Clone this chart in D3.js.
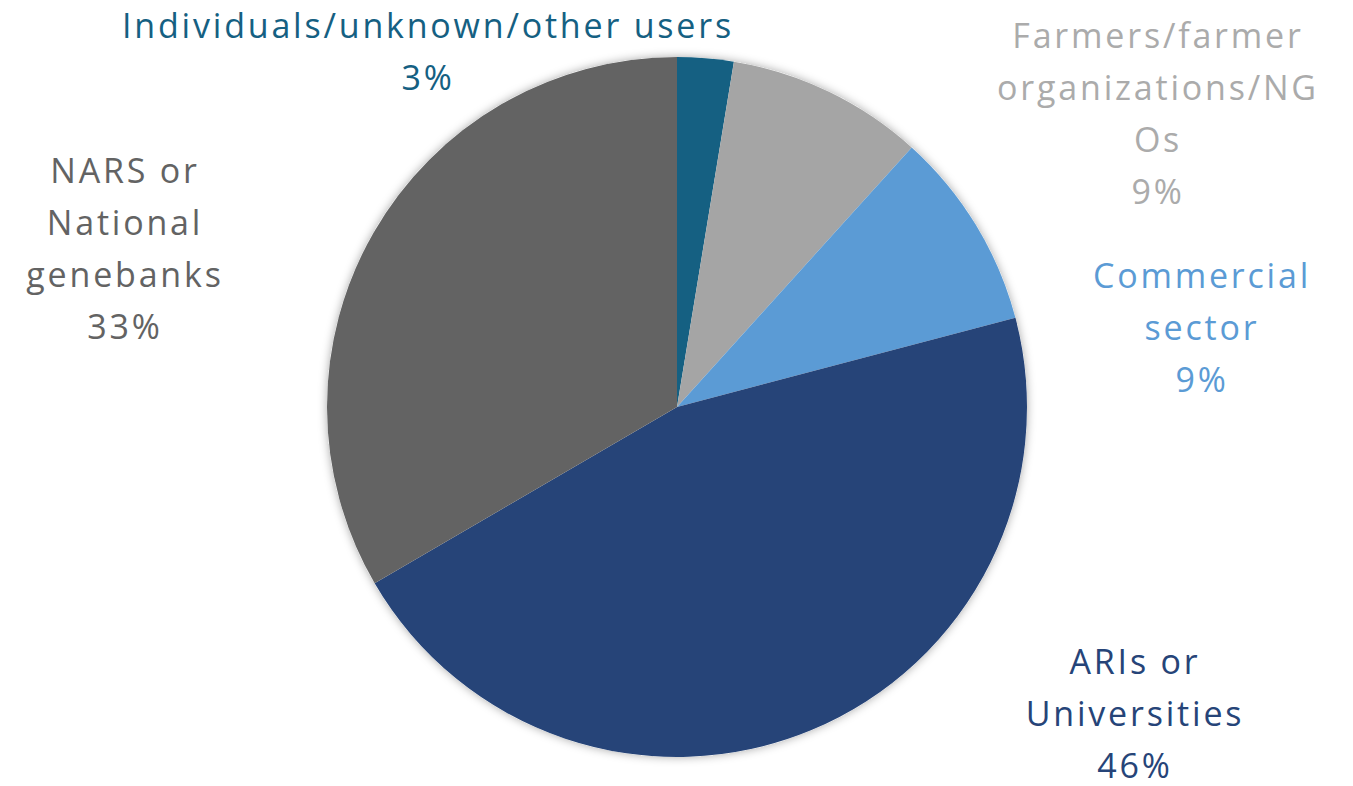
<!DOCTYPE html>
<html>
<head>
<meta charset="utf-8">
<script src="https://cdn.jsdelivr.net/npm/d3@7"></script>
<style>
  html, body { margin: 0; padding: 0; background: #fff; }
  svg { display: block; }
</style>
</head>
<body>
<div id="chart"></div>
<script>
const categories = [
  "Individuals/unknown/other users",
  "Farmers/farmer organizations/NGOs",
  "Commercial sector",
  "ARIs or Universities",
  "NARS or National genebanks"
]
const shares = [2.6, 9.1, 9.2, 45.7, 33.4]
const labelLines = [
  ["Individuals/unknown/other users"],
  ["Farmers/farmer", "organizations/NG", "Os"],
  ["Commercial", "sector"],
  ["ARIs or", "Universities"],
  ["NARS or", "National", "genebanks"]
]
const colors = ["#156082", "#a5a5a5", "#5b9bd5", "#264478", "#636363"]
const textColors = ["#156082", "#ababab", "#5b9bd5", "#264478", "#636363"]

// label block positions (center x, first line center y)
const labelPos = [[428, 26], [1158, 36], [1202, 276], [1135, 662], [125, 171]]

const width = 1353, height = 786
const cx = 677, cy = 407, radius = 350
const fontSize = 34, lineH = 52

const svg = d3.select("#chart").append("svg")
  .attr("width", width)
  .attr("height", height)

const defs = svg.append("defs")
const shadow = defs.append("filter")
  .attr("id", "shadow")
  .attr("x", "-10%").attr("y", "-10%")
  .attr("width", "120%").attr("height", "120%")
shadow.append("feDropShadow")
  .attr("dx", 0).attr("dy", 0)
  .attr("stdDeviation", 5)
  .attr("flood-color", "#000")
  .attr("flood-opacity", 0.35)

const pie = d3.pie().sort(null).value(d => d)
const arc = d3.arc().innerRadius(0).outerRadius(radius)
const arcs = pie(shares)

const g = svg.append("g")
  .attr("transform", `translate(${cx},${cy})`)

g.append("circle")
  .attr("r", radius)
  .attr("fill", "#fff")
  .attr("filter", "url(#shadow)")

g.selectAll("path")
  .data(arcs)
  .join("path")
    .attr("d", arc)
    .attr("fill", (d, i) => colors[i])

const labels = svg.append("g")
  .attr("font-family", "'Open Sans', 'Noto Sans', sans-serif")
  .attr("font-size", fontSize)
  .attr("text-anchor", "middle")

labels.selectAll("text")
  .data(arcs)
  .join("text")
    .attr("fill", (d, i) => textColors[i])
    .style("letter-spacing", "2.8px")
    .each(function(d, i) {
      const lines = labelLines[i].concat([Math.round(d.value) + "%"])
      const [x, y0] = labelPos[i]
      d3.select(this).selectAll("tspan")
        .data(lines)
        .join("tspan")
          .attr("x", x)
          .attr("y", (_, k) => y0 + k * lineH + fontSize * 0.35)
          .text(t => t)
    })
</script>
</body>
</html>
